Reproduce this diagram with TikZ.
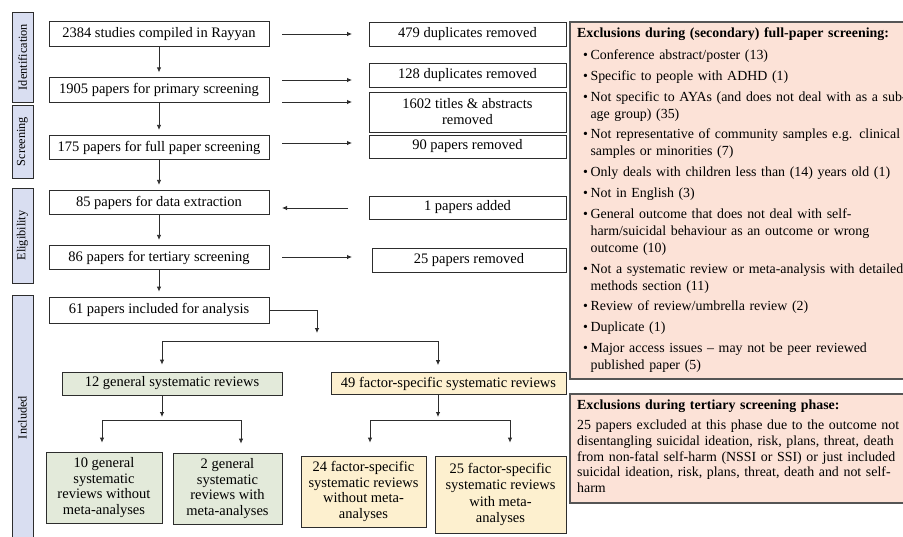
\documentclass[tikz,border=0pt]{standalone}
\usepackage{fontspec}
\setmainfont{Liberation Serif}
\usetikzlibrary{arrows.meta}
\definecolor{stageColor}{RGB}{217,222,241}
\definecolor{generalColor}{RGB}{227,234,218}
\definecolor{factorColor}{RGB}{253,240,207}
\definecolor{exclusionColor}{RGB}{252,226,215}
\definecolor{lineColor}{RGB}{45,45,45}
\definecolor{exclusionLine}{RGB}{85,85,85}
\tikzstyle{flowchart} = [x = 1pt, y = -1pt]
\tikzstyle{stageBarStyle} = [draw=lineColor, fill=stageColor, line width = .9pt]
\tikzstyle{stageText} = [rotate = 90, font=\fontsize{12.3}{14}\selectfont]
\tikzstyle{flowBox} = [draw=lineColor, fill=white, line width = .8pt, inner sep = 0pt, align=center, font=\fontsize{14.5}{16}\selectfont]
\tikzstyle{mainBox} = [flowBox, minimum width = 220pt, minimum height = 24.5pt]
\tikzstyle{removedBox} = [flowBox, minimum width = 197pt, minimum height = 24pt]
\tikzstyle{flowLine} = [draw=lineColor, line width = .8pt]
\tikzstyle{flowArrow} = [flowLine, -{Latex[length = 5pt, width = 4.5pt]}]
\tikzstyle{exclusionBox} = [draw=exclusionLine, fill=exclusionColor, line width = 1.2pt]
\tikzstyle{exclusionText} = [anchor = north west, inner sep = 0pt, align = left, text width = 360pt]
\newcommand{\stageBar}[4]{\filldraw [stageBarStyle] (12,#1) rectangle (33,#2) node [stageText, midway] (#4) {#3};}
\newcommand{\exclItem}{\hspace*{6pt}\textbullet\hspace{2.5pt}}
\newcommand{\exclCont}{\hspace*{6pt}\phantom{\textbullet}\hspace{2.5pt}}

\begin{document}
\begin{tikzpicture}[flowchart]
  \useasboundingbox (0,0) rectangle (903,536);

  % stages on the left
  \stageBar{12}{102}{Identification}{identStage}
  \stageBar{105}{178}{Screening}{screenStage}
  \stageBar{188}{283}{Eligibility}{eligStage}
  \stageBar{295}{540}{Included}{inclStage}

  % main column
  \node [mainBox] (compiled) at (159,34) {2384 studies compiled in Rayyan};
  \node [mainBox] (primary) at (159,90) {1905 papers for primary screening};
  \node [mainBox] (fullPaper) at (159,147.5) {175 papers for full paper screening};
  \node [mainBox] (extraction) at (159,202.5) {85 papers for data extraction};
  \node [mainBox] (tertiary) at (159,257.5) {86 papers for tertiary screening};
  \node [mainBox, minimum height = 26pt] (included) at (159,310) {61 papers included for analysis};
  \foreach \from/\to in {compiled/primary, primary/fullPaper, fullPaper/extraction, extraction/tertiary, tertiary/included} {
    \draw [flowArrow, shorten >= 5pt] (\from.south) -- (\to.north);
  }

  % right column
  \node [removedBox] (dupFirst) at (467.5,34) {479 duplicates removed};
  \node [removedBox] (dupSecond) at (467.5,75) {128 duplicates removed};
  \node [removedBox, minimum height = 40pt] (titles) at (467.5,112) {1602 titles \& abstracts\\removed};
  \node [removedBox, minimum height = 23pt] (fullRemoved) at (467.5,146.5) {90 papers removed};
  \node [removedBox, minimum height = 23pt] (added) at (467.5,207.5) {1 papers added};
  \node [removedBox, minimum width = 194pt] (tertRemoved) at (469,260) {25 papers removed};
  \foreach \gapName/\gapY in {dupFirst/34, dupSecond/80, titles/102, fullRemoved/143, tertRemoved/257} {
    \coordinate (\gapName-s) at (282,\gapY);
    \coordinate (\gapName-e) at (352,\gapY);
    \draw [flowArrow] (\gapName-s) -- (\gapName-e);
  }
  \coordinate (added-s) at (348,208);
  \coordinate (added-e) at (282,208);
  \draw [flowArrow] (added-s) -- (added-e);

  % split of the included papers
  \coordinate (splitTip) at (317,333);
  \coordinate (splitLeft) at (162,341);
  \coordinate (splitRight) at (438,341);
  \draw [flowArrow] (included.east) -| (splitTip);
  \draw [flowLine] (splitLeft) -- (splitRight);
  \node [flowBox, fill=generalColor, minimum width = 220pt, minimum height = 23pt] (general) at (172,383.5) {12 general systematic reviews};
  \node [flowBox, fill=factorColor, minimum width = 235pt, minimum height = 22pt] (factor) at (448.5,383.5) {49 factor-specific systematic reviews};
  \draw [flowArrow, shorten >= 7pt] (splitLeft) -- (splitLeft |- general.north);
  \draw [flowArrow, shorten >= 7pt] (splitRight) -- (splitRight |- factor.north);

  \node [flowBox, fill=generalColor, minimum width = 116pt, minimum height = 71pt, font=\fontsize{14.5}{15.6}\selectfont] (generalNoMeta) at (104,487.5) {10 general\\systematic\\reviews without\\meta-analyses};
  \node [flowBox, fill=generalColor, minimum width = 109pt, minimum height = 71pt, font=\fontsize{14.5}{15.6}\selectfont] (generalMeta) at (227.5,488.5) {2 general\\systematic\\reviews with\\meta-analyses};
  \node [flowBox, fill=factorColor, minimum width = 125pt, minimum height = 71pt, font=\fontsize{14.5}{15.6}\selectfont] (factorNoMeta) at (363.5,491.5) {24 factor-specific\\systematic reviews\\without meta-\\analyses};
  \node [flowBox, fill=factorColor, minimum width = 131pt, minimum height = 77pt, font=\fontsize{14.5}{16.6}\selectfont] (factorMeta) at (500.5,494.5) {25 factor-specific\\systematic reviews\\with meta-\\analyses};

  \coordinate (generalJoin) at (162,420);
  \coordinate (generalL) at (102,420);
  \coordinate (generalR) at (241,420);
  \draw [flowArrow, shorten >= 3pt] (generalJoin |- general.south) -- (generalJoin);
  \draw [flowLine] (generalL) -- (generalR);
  \draw [flowArrow, shorten >= 9pt] (generalL) -- (generalL |- generalNoMeta.north);
  \draw [flowArrow, shorten >= 9pt] (generalR) -- (generalR |- generalMeta.north);

  \coordinate (factorJoin) at (438,420);
  \coordinate (factorL) at (370,420);
  \coordinate (factorR) at (510,420);
  \draw [flowArrow, shorten >= 3pt] (factorJoin |- factor.south) -- (factorJoin);
  \draw [flowLine] (factorL) -- (factorR);
  \draw [flowArrow, shorten >= 13pt] (factorL) -- (factorL |- factorNoMeta.north);
  \draw [flowArrow, shorten >= 13pt] (factorR) -- (factorR |- factorMeta.north);

  % exclusion notes
  \filldraw [exclusionBox] (570,22) rectangle (920,379);
  \node [exclusionText, font=\fontsize{13.9}{17}\selectfont] (fullPaperNote) at (577,27.5) {%
    \textbf{Exclusions during (secondary) full-paper screening:}\\[5pt]
    \exclItem Conference abstract/poster (13)\\[3.8pt]
    \exclItem Specific to people with ADHD (1)\\[3.8pt]
    \exclItem Not specific to AYAs (and does not deal with as a sub-\\
    \exclCont age group) (35)\\[3.8pt]
    \exclItem Not representative of community samples e.g. clinical\\
    \exclCont samples or minorities (7)\\[3.8pt]
    \exclItem Only deals with children less than (14) years old (1)\\[3.8pt]
    \exclItem Not in English (3)\\[3.8pt]
    \exclItem General outcome that does not deal with self-\\
    \exclCont harm/suicidal behaviour as an outcome or wrong\\
    \exclCont outcome (10)\\[3.8pt]
    \exclItem Not a systematic review or meta-analysis with detailed\\
    \exclCont methods section (11)\\[3.8pt]
    \exclItem Review of review/umbrella review (2)\\[3.8pt]
    \exclItem Duplicate (1)\\[3.8pt]
    \exclItem Major access issues -- may not be peer reviewed\\
    \exclCont published paper (5)};

  \filldraw [exclusionBox] (570,394) rectangle (920,503);
  \node [exclusionText, font=\fontsize{13.9}{15.6}\selectfont] (tertiaryNote) at (577,399.5) {%
    \textbf{Exclusions during tertiary screening phase:}\\[5pt]
    25 papers excluded at this phase due to the outcome not\\
    disentangling suicidal ideation, risk, plans, threat, death\\
    from non-fatal self-harm (NSSI or SSI) or just included\\
    suicidal ideation, risk, plans, threat, death and not self-\\
    harm};
\end{tikzpicture}
\end{document}
